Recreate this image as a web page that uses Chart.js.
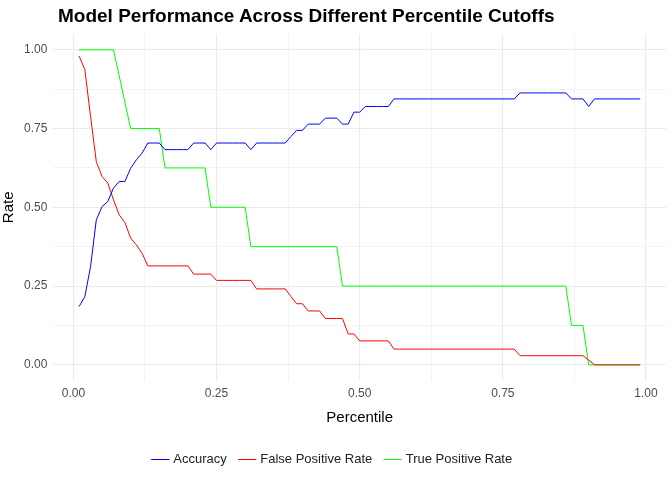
<!DOCTYPE html>
<html>
<head>
<meta charset="utf-8">
<script src="https://cdn.jsdelivr.net/npm/chart.js@4"></script>
<style>
  body { margin: 0; background: #fff; }
  #wrap { width: 672px; height: 480px; position: relative; }
  #title { position: absolute; left: 58px; top: 5px; font: bold 19px "Liberation Sans", sans-serif; color: #000; }
</style>
</head>
<body>
<div id="wrap"><div id="title">Model Performance Across Different Percentile Cutoffs</div><canvas id="c"></canvas></div>
<script>
// percentile cutoffs 0.01 .. 0.99
const percentiles = [];
for (let i = 1; i <= 99; i++) percentiles.push(i / 100);

const accuracy = [
  0.185, 0.217, 0.312, 0.46, 0.502, 0.518, 0.561, 0.582, 0.582, 0.624,
  0.651, 0.672, 0.704, 0.704, 0.704, 0.683, 0.683, 0.683, 0.683, 0.683,
  0.704, 0.704, 0.704, 0.683, 0.704, 0.704, 0.704, 0.704, 0.704, 0.704,
  0.683, 0.704, 0.704, 0.704, 0.704, 0.704, 0.704, 0.725, 0.744, 0.744,
  0.764, 0.764, 0.764, 0.783, 0.783, 0.783, 0.764, 0.764, 0.802, 0.802,
  0.82, 0.82, 0.82, 0.82, 0.82, 0.844, 0.844, 0.844, 0.844, 0.844,
  0.844, 0.844, 0.844, 0.844, 0.844, 0.844, 0.844, 0.844, 0.844, 0.844,
  0.844, 0.844, 0.844, 0.844, 0.844, 0.844, 0.844, 0.863, 0.863, 0.863,
  0.863, 0.863, 0.863, 0.863, 0.863, 0.863, 0.844, 0.844, 0.844, 0.82,
  0.844, 0.844, 0.844, 0.844, 0.844, 0.844, 0.844, 0.844, 0.844
];

const falsePositiveRate = [
  0.98, 0.937, 0.788, 0.645, 0.598, 0.577, 0.524, 0.476, 0.452, 0.402,
  0.381, 0.354, 0.314, 0.314, 0.314, 0.314, 0.314, 0.314, 0.314, 0.314,
  0.288, 0.288, 0.288, 0.288, 0.268, 0.268, 0.268, 0.268, 0.268, 0.268,
  0.268, 0.241, 0.241, 0.241, 0.241, 0.241, 0.241, 0.217, 0.194, 0.194,
  0.171, 0.171, 0.171, 0.147, 0.147, 0.147, 0.147, 0.098, 0.098, 0.076,
  0.076, 0.076, 0.076, 0.076, 0.076, 0.05, 0.05, 0.05, 0.05, 0.05,
  0.05, 0.05, 0.05, 0.05, 0.05, 0.05, 0.05, 0.05, 0.05, 0.05,
  0.05, 0.05, 0.05, 0.05, 0.05, 0.05, 0.05, 0.029, 0.029, 0.029,
  0.029, 0.029, 0.029, 0.029, 0.029, 0.029, 0.029, 0.029, 0.029, 0.015,
  0, 0, 0, 0, 0, 0, 0, 0, 0
];

const truePositiveRate = [
  1, 1, 1, 1, 1, 1, 1, 0.917, 0.833, 0.75,
  0.75, 0.75, 0.75, 0.75, 0.75, 0.625, 0.625, 0.625, 0.625, 0.625,
  0.625, 0.625, 0.625, 0.5, 0.5, 0.5, 0.5, 0.5, 0.5, 0.5,
  0.375, 0.375, 0.375, 0.375, 0.375, 0.375, 0.375, 0.375, 0.375, 0.375,
  0.375, 0.375, 0.375, 0.375, 0.375, 0.375, 0.25, 0.25, 0.25, 0.25,
  0.25, 0.25, 0.25, 0.25, 0.25, 0.25, 0.25, 0.25, 0.25, 0.25,
  0.25, 0.25, 0.25, 0.25, 0.25, 0.25, 0.25, 0.25, 0.25, 0.25,
  0.25, 0.25, 0.25, 0.25, 0.25, 0.25, 0.25, 0.25, 0.25, 0.25,
  0.25, 0.25, 0.25, 0.25, 0.25, 0.25, 0.125, 0.125, 0.125, 0,
  0, 0, 0, 0, 0, 0, 0, 0, 0
];

const seriesNames = ["Accuracy", "False Positive Rate", "True Positive Rate"];
const xTicks = [0, 0.25, 0.5, 0.75, 1];
const yTicks = [0, 0.25, 0.5, 0.75, 1];
const gridSteps = [0, 0.125, 0.25, 0.375, 0.5, 0.625, 0.75, 0.875, 1];

const pts = arr => arr.map((v, i) => ({ x: percentiles[i], y: v }));
const line = (label, arr, color) => ({
  label, data: pts(arr), borderColor: color, backgroundColor: color,
  borderWidth: 1, pointRadius: 0, tension: 0
});

const isMajor = (v, list) => list.some(t => Math.abs(t - v) < 1e-6);
const gridOpts = list => ({
  color: "#ebebeb",
  lineWidth: ctx => isMajor(ctx.tick.value, list) ? 1.1 : 0.6,
  drawTicks: false
});

new Chart(document.getElementById("c"), {
  type: "line",
  data: {
    datasets: [
      line(seriesNames[0], accuracy, "#0000ff"),
      line(seriesNames[1], falsePositiveRate, "#ff0000"),
      line(seriesNames[2], truePositiveRate, "#00ff00")
    ]
  },
  options: {
    responsive: true,
    maintainAspectRatio: false,
    animation: false,
    layout: { padding: { left: 0, right: 6, top: 34, bottom: 4 } },
    plugins: {
      legend: {
        position: "bottom",
        labels: {
          usePointStyle: true, pointStyle: "line", boxWidth: 20, color: "#222",
          font: { family: "Liberation Sans", size: 13 }, padding: 14
        }
      },
      tooltip: { enabled: false }
    },
    scales: {
      x: {
        type: "linear", min: -0.035, max: 1.035,
        afterBuildTicks: ax => { ax.ticks = gridSteps.map(v => ({ value: v })); },
        ticks: {
          color: "#4d4d4d", font: { family: "Liberation Sans", size: 12 }, padding: 6,
          callback: v => isMajor(v, xTicks) ? v.toFixed(2) : ""
        },
        grid: gridOpts(xTicks),
        border: { display: false },
        title: { display: true, text: "Percentile", color: "#000", font: { family: "Liberation Sans", size: 15 }, padding: { top: 2, bottom: 12 } }
      },
      y: {
        min: -0.05, max: 1.05,
        afterBuildTicks: ax => { ax.ticks = gridSteps.map(v => ({ value: v })); },
        ticks: {
          color: "#4d4d4d", font: { family: "Liberation Sans", size: 12 }, padding: 6,
          callback: v => isMajor(v, yTicks) ? v.toFixed(2) : ""
        },
        grid: gridOpts(yTicks),
        border: { display: false },
        title: { display: true, text: "Rate", color: "#000", font: { family: "Liberation Sans", size: 15 }, padding: { top: 0, bottom: 0 } }
      }
    }
  }
});
</script>
</body>
</html>
